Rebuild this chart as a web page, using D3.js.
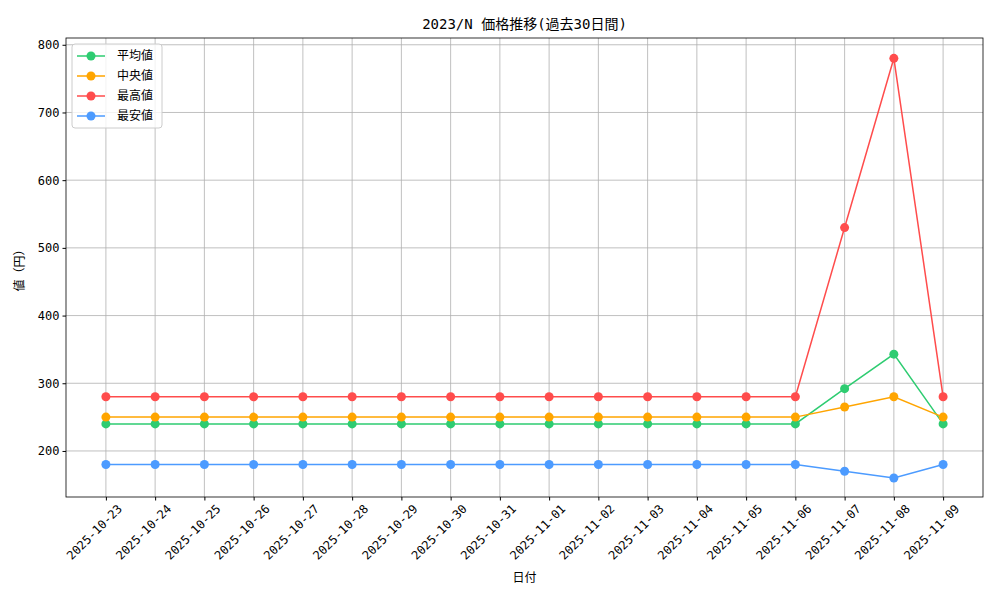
<!DOCTYPE html>
<html lang="ja">
<head>
<meta charset="utf-8">
<script src="https://d3js.org/d3.v7.min.js"></script>
<style>
  body { margin: 0; background: #fff; }
  text { font-family: "DejaVu Sans Mono", "Noto Sans CJK JP", monospace; }
</style>
</head>
<body>
<svg id="chart" width="1000" height="600"></svg>
<script>
var dates = ["2025-10-23","2025-10-24","2025-10-25","2025-10-26","2025-10-27","2025-10-28","2025-10-29","2025-10-30","2025-10-31","2025-11-01","2025-11-02","2025-11-03","2025-11-04","2025-11-05","2025-11-06","2025-11-07","2025-11-08","2025-11-09"];
var meanVals   = [240,240,240,240,240,240,240,240,240,240,240,240,240,240,240,292,343,240];
var medianVals = [250,250,250,250,250,250,250,250,250,250,250,250,250,250,250,265,280,250];
var maxVals    = [280,280,280,280,280,280,280,280,280,280,280,280,280,280,280,530,780,280];
var minVals    = [180,180,180,180,180,180,180,180,180,180,180,180,180,180,180,170,160,180];
var seriesNames = ["平均値","中央値","最高値","最安値"];
var seriesColors = ["#2ecc71","#ffa500","#ff4c4c","#4c9bff"];
var series = [meanVals, medianVals, maxVals, minVals];
var yTicks = [200,300,400,500,600,700,800];

var margin = { top: 38, right: 17, bottom: 103, left: 66 };
var width = 1000 - margin.left - margin.right;
var height = 600 - margin.top - margin.bottom;

var svg = d3.select("#chart");
var g = svg.append("g").attr("transform", "translate(" + margin.left + "," + margin.top + ")");

var x = d3.scalePoint().domain(dates).range([0, width]).padding(0.81);
var y = d3.scaleLinear().domain([132, 810]).range([height, 0]);

// grid
g.selectAll(".gx").data(dates).enter().append("line")
  .attr("x1", function (d) { return x(d); }).attr("x2", function (d) { return x(d); })
  .attr("y1", 0).attr("y2", height).attr("stroke", "#b0b0b0").attr("stroke-width", 0.8);
g.selectAll(".gy").data(yTicks).enter().append("line")
  .attr("y1", function (d) { return y(d); }).attr("y2", function (d) { return y(d); })
  .attr("x1", 0).attr("x2", width).attr("stroke", "#b0b0b0").attr("stroke-width", 0.8);

// axes
var xAxis = g.append("g").attr("transform", "translate(0," + height + ")")
  .call(d3.axisBottom(x).tickSize(3.5).tickSizeOuter(0));
xAxis.selectAll("text")
  .attr("transform", "translate(6,2) rotate(-45)").style("text-anchor", "end")
  .attr("dx", "0").attr("dy", "0.7em").style("font-size", "12px").attr("fill", "#000");
var yAxis = g.append("g").call(d3.axisLeft(y).tickValues(yTicks).tickSize(3.5).tickSizeOuter(0));
yAxis.selectAll("text").style("font-size", "12px").attr("fill", "#000");
g.selectAll(".domain").remove();
g.append("rect").attr("width", width).attr("height", height)
  .attr("fill", "none").attr("stroke", "#000").attr("stroke-width", 0.8);

// lines
var line = d3.line().x(function (d, i) { return x(dates[i]); }).y(function (d) { return y(d); });
series.forEach(function (s, k) {
  g.append("path").datum(s).attr("d", line)
    .attr("fill", "none").attr("stroke", seriesColors[k]).attr("stroke-width", 1.5);
  g.selectAll(".p" + k).data(s).enter().append("circle")
    .attr("cx", function (d, i) { return x(dates[i]); })
    .attr("cy", function (d) { return y(d); })
    .attr("r", 4.5).attr("fill", seriesColors[k]);
});

// legend
var lg = g.append("g").attr("transform", "translate(6,6)");
lg.append("rect").attr("width", 90).attr("height", 84).attr("rx", 3)
  .attr("fill", "#fff").attr("fill-opacity", 0.8).attr("stroke", "#ccc");
seriesNames.forEach(function (n, k) {
  var yy = 12 + k * 20;
  lg.append("line").attr("x1", 5).attr("x2", 33).attr("y1", yy).attr("y2", yy)
    .attr("stroke", seriesColors[k]).attr("stroke-width", 1.5);
  lg.append("circle").attr("cx", 19).attr("cy", yy).attr("r", 4.5).attr("fill", seriesColors[k]);
  lg.append("text").attr("x", 45).attr("y", yy).attr("dy", "0.35em")
    .style("font-size", "12px").text(n);
});

// titles
svg.append("text").attr("x", margin.left + width / 2).attr("y", 29)
  .attr("text-anchor", "middle").style("font-size", "14px").text("2023/N 価格推移(過去30日間)");
svg.append("text").attr("x", margin.left + width / 2).attr("y", 582)
  .attr("text-anchor", "middle").style("font-size", "12px").text("日付");
svg.append("text").attr("transform", "translate(24," + (margin.top + height / 2) + ") rotate(-90)")
  .attr("text-anchor", "middle").style("font-size", "12px").text("値（円）");
</script>
</body>
</html>
